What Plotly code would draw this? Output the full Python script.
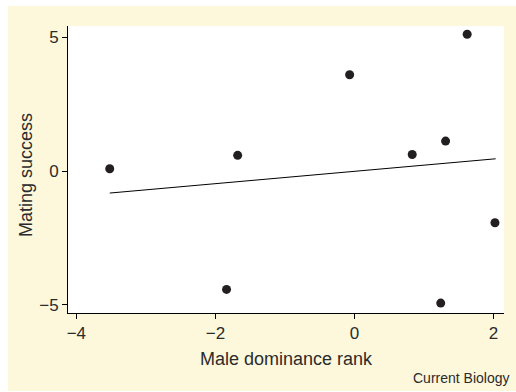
import plotly.graph_objects as go

# Data
dominance_rank = [-3.52, -1.68, -0.07, 1.62, 0.83, 1.31, -1.84, 1.24, 2.02]
mating_success = [0.09, 0.59, 3.60, 5.11, 0.62, 1.12, -4.42, -4.93, -1.93]
fit_x = [-3.52, 2.03]
fit_y = [-0.82, 0.46]
x_ticks = [-4, -2, 0, 2]
y_ticks = [-5, 0, 5]

FONT = "Liberation Sans, Arial, Helvetica, sans-serif"
TXT = "#2b2b2b"
YELLOW = "#fdf8dc"

W, H = 516, 392
L, R, T, B = 68, 504, 26, 313
pw, ph = R - L, B - T

def px(xp):
    return (xp - L) / pw

def py(yp):
    return (B - yp) / ph

fig = go.Figure()
fig.add_trace(go.Scatter(x=fit_x, y=fit_y, mode="lines",
                         line=dict(color="black", width=1), hoverinfo="skip"))
fig.add_trace(go.Scatter(x=dominance_rank, y=mating_success, mode="markers",
                         marker=dict(color="#231f20", size=9, line=dict(width=0))))

fig.update_layout(
    width=W, height=H,
    margin=dict(l=L, r=W - R, t=T, b=H - B, pad=0),
    paper_bgcolor=YELLOW,
    plot_bgcolor="white",
    showlegend=False,
    font=dict(family=FONT, color=TXT, size=17),
    xaxis=dict(range=[-4.12, 2.15], tickvals=x_ticks, ticks="outside", ticklen=5,
               tickcolor="black", tickwidth=1, showline=True, linecolor="black",
               linewidth=1, showgrid=False, zeroline=False, mirror=False,
               tickfont=dict(size=17, family=FONT, color=TXT)),
    yaxis=dict(range=[-5.30, 5.42], tickvals=y_ticks, ticks="outside", ticklen=5,
               tickcolor="black", tickwidth=1, showline=True, linecolor="black",
               linewidth=1, showgrid=False, zeroline=False, mirror=False,
               tickfont=dict(size=17, family=FONT, color=TXT)),
    shapes=[
        dict(type="rect", xref="paper", yref="paper", x0=px(-5), x1=px(W + 5),
             y0=py(6), y1=py(-5), fillcolor="white", line=dict(width=0), layer="above"),
        dict(type="rect", xref="paper", yref="paper", x0=px(-5), x1=px(8),
             y0=py(H + 5), y1=py(-5), fillcolor="white", line=dict(width=0), layer="above"),
        dict(type="rect", xref="paper", yref="paper", x0=px(-5), x1=px(W + 5),
             y0=py(H + 5), y1=py(391), fillcolor="white", line=dict(width=0), layer="above"),
    ],
    annotations=[
        dict(text="Male dominance rank", xref="paper", yref="paper", x=0.5, y=py(359),
             xanchor="center", yanchor="middle", showarrow=False,
             font=dict(size=18, family=FONT, color=TXT)),
        dict(text="Mating success", xref="paper", yref="paper", x=px(26), y=py(175),
             xanchor="center", yanchor="middle", textangle=-90, showarrow=False,
             font=dict(size=18, family=FONT, color=TXT)),
        dict(text="Current Biology", xref="paper", yref="paper", x=px(512), y=py(378),
             xanchor="right", yanchor="middle", showarrow=False,
             font=dict(size=14, family=FONT, color=TXT)),
    ],
)

fig.write_html(
    "out.html",
    config={"displayModeBar": False},
    post_script="document.body.style.margin='0';document.body.style.overflow='hidden';",
)
